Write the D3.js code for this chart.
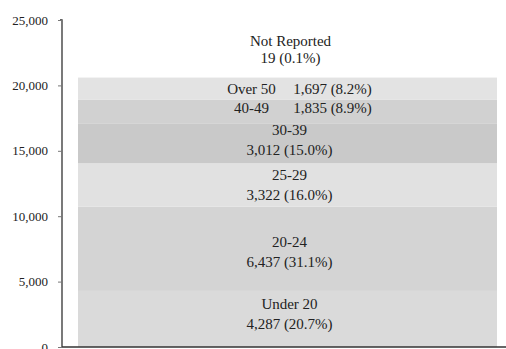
<!DOCTYPE html>
<html>
<head>
<meta charset="utf-8">
<script src="https://cdn.jsdelivr.net/npm/d3@7"></script>
<style>
  html, body { margin: 0; padding: 0; background: #ffffff; }
  svg { display: block; }
  text { font-family: "Liberation Serif", "DejaVu Serif", serif; fill: #222; }
</style>
</head>
<body>
<svg id="chart" width="506" height="349"></svg>
<script>
// Age groups stacked bottom to top
const groups = ["Under 20", "20-24", "25-29", "30-39", "40-49", "Over 50", "Not Reported"];
const counts = [4287, 6437, 3322, 3012, 1835, 1697, 19];
const shares = ["20.7%", "31.1%", "16.0%", "15.0%", "8.9%", "8.2%", "0.1%"];
const fills  = ["#dadada", "#d4d4d4", "#e1e1e1", "#c9c9c9", "#d1d1d1", "#e3e3e3", "#e8e8e8"];
const yTicks = [0, 5000, 10000, 15000, 20000, 25000];

const svg = d3.select("#chart");
const x0 = 62, x1 = 506, yTop = 20, yBottom = 347;

const y = d3.scaleLinear().domain([0, 25000]).range([yBottom, yTop]);
// single category band, with the bar inset from the axis
const x = d3.scaleBand().domain(["All"]).range([78, 497]).padding(0);

// stack the segments
let acc = 0;
const segs = groups.map((g, i) => {
  const s = { group: g, count: counts[i], share: shares[i], fill: fills[i], y0: acc, y1: acc + counts[i] };
  acc += counts[i];
  return s;
});

const bx = x("All");
const bw = x.bandwidth();

svg.append("g").selectAll("rect").data(segs).join("rect")
  .attr("x", bx)
  .attr("width", bw)
  .attr("y", d => y(d.y1))
  .attr("height", d => y(d.y0) - y(d.y1))
  .attr("fill", d => d.fill);

// y axis
const yAxis = d3.axisLeft(y).tickValues(yTicks).tickFormat(d3.format(",")).tickSize(4).tickPadding(10);
const ga = svg.append("g").attr("transform", `translate(${x0},0)`).call(yAxis);
ga.select(".domain").attr("stroke", "#333").attr("stroke-width", 1.3).attr("d", `M-2,${yTop}H0V${yBottom}`);
ga.selectAll(".tick line").attr("stroke", "#777");
ga.selectAll(".tick text").attr("font-size", 13).attr("fill", "#111")
  .style("font-family", '"Liberation Serif", serif');

// baseline
svg.append("line").attr("x1", x0).attr("x2", x1).attr("y1", y(0)).attr("y2", y(0))
  .attr("stroke", "#333").attr("stroke-width", 1.3);

// labels
const cx = bx + bw / 2;
const fmt = d3.format(",");
const lab = svg.append("g").attr("font-size", 15).attr("text-anchor", "middle");

segs.forEach(d => {
  const mid = (y(d.y0) + y(d.y1)) / 2;
  const valueText = `${fmt(d.count)} (${d.share})`;
  if (d.group === "Not Reported") {
    const top = y(d.y1);
    lab.append("text").attr("x", cx + 3).attr("y", top - 31).text(d.group);
    lab.append("text").attr("x", cx + 3).attr("y", top - 14).text(valueText);
  } else if (d.count < 2000) {
    const ty = d.group === "40-49" ? mid + 1 : mid + 5;
    lab.append("text").attr("x", cx - 36).attr("y", ty).text(d.group);
    lab.append("text").attr("x", cx + 45).attr("y", ty).text(valueText);
  } else {
    const off = d.group === "30-39" ? -4 : (d.group === "Under 20" ? -5 : (d.group === "20-24" ? 3 : 0));
    lab.append("text").attr("x", cx + 2).attr("y", mid + off - 5).text(d.group);
    lab.append("text").attr("x", cx + 2).attr("y", mid + off + 15).text(valueText);
  }
});
</script>
</body>
</html>
